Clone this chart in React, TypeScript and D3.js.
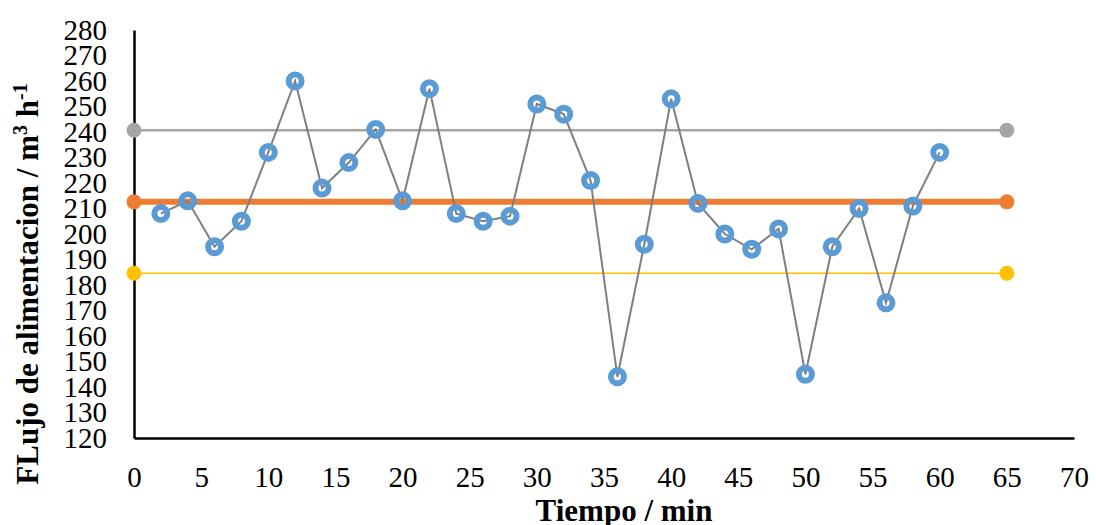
import {useEffect, useRef} from 'react';
import * as d3 from 'd3';

const [W, H] = [1096, 525];
const margin = {left: 134, right: 22, top: 30, bottom: 87};

const tiempo = [2, 4, 6, 8, 10, 12, 14, 16, 18, 20, 22, 24, 26, 28, 30, 32, 34, 36, 38, 40, 42, 44, 46, 48, 50, 52, 54, 56, 58, 60];
const flujo = [208, 213, 195, 205, 232, 260, 218, 228, 241, 213, 257, 208, 205, 207, 251, 247, 221, 144, 196, 253, 212, 200, 194, 202, 145, 195, 210, 173, 211, 232];
const limitX = [0, 65];
const lsc = 240.7;
const media = 212.6;
const lic = 184.6;
const xTicks = [0, 5, 10, 15, 20, 25, 30, 35, 40, 45, 50, 55, 60, 65, 70];
const yTicks = [120, 130, 140, 150, 160, 170, 180, 190, 200, 210, 220, 230, 240, 250, 260, 270, 280];

function App() {
    const ref = useRef<SVGSVGElement>(null);

    useEffect(() => {
        const svg = d3.select(ref.current);
        svg.selectAll('*').remove();

        const x = d3.scaleLinear().domain([0, 70]).range([margin.left, W - margin.right]);
        const y = d3.scaleLinear().domain([120, 280]).range([H - margin.bottom, margin.top]);
        const font = '"Liberation Serif", "Times New Roman", serif';

        // axes
        const xAxis = svg.append('g').attr('transform', `translate(0,${y(120)})`)
            .call(d3.axisBottom(x).tickValues(xTicks).tickSize(0).tickPadding(28))
            .attr('font-family', font).attr('font-size', 29);
        xAxis.select('.domain').attr('stroke', '#000').attr('stroke-width', 2.5);
        xAxis.selectAll('text').style('font-family', font).style('font-size', '29px').attr('fill', '#000');

        const yAxis = svg.append('g').attr('transform', `translate(${x(0)},0)`)
            .call(d3.axisLeft(y).tickValues(yTicks).tickSize(0).tickPadding(27))
            .attr('font-family', font).attr('font-size', 29);
        yAxis.select('.domain').attr('stroke', '#000').attr('stroke-width', 2.5);
        yAxis.selectAll('text').style('font-family', font).style('font-size', '29px').attr('fill', '#000');

        // control lines
        const limits = [
            {v: lsc, color: '#A5A5A5', w: 2.5},
            {v: lic, color: '#FFC000', w: 1.5},
            {v: media, color: '#ED7D31', w: 6},
        ];
        limits.forEach(l => {
            svg.append('line')
                .attr('x1', x(limitX[0])).attr('x2', x(limitX[1]))
                .attr('y1', y(l.v)).attr('y2', y(l.v))
                .attr('stroke', l.color).attr('stroke-width', l.w);
            svg.selectAll(null).data(limitX).enter().append('circle')
                .attr('cx', d => x(d)).attr('cy', y(l.v)).attr('r', 7.5)
                .attr('fill', l.color);
        });

        // series
        const pts = tiempo.map((t, i) => [t, flujo[i]] as [number, number]);
        const line = d3.line<[number, number]>().x(d => x(d[0])).y(d => y(d[1]));
        svg.append('path').datum(pts)
            .attr('d', line).attr('fill', 'none')
            .attr('stroke', '#7F7F7F').attr('stroke-width', 2);
        svg.selectAll(null).data(pts).enter().append('circle')
            .attr('cx', d => x(d[0])).attr('cy', d => y(d[1])).attr('r', 6.5)
            .attr('fill', 'none').attr('stroke', '#5B9BD5').attr('stroke-width', 6);

        // titles
        svg.append('text')
            .attr('x', 624).attr('y', 521)
            .attr('text-anchor', 'middle')
            .style('font-family', font).style('font-size', '31px').attr('font-weight', 'bold')
            .text('Tiempo / min');

        const yt = svg.append('text')
            .attr('transform', `translate(38,${284}) rotate(-90)`)
            .attr('text-anchor', 'middle')
            .style('font-family', font).style('font-size', '31px').attr('font-weight', 'bold');
        yt.append('tspan').text('FLujo de alimentacion / m');
        yt.append('tspan').style('font-size', '20px').attr('dy', -11).text('3');
        yt.append('tspan').attr('dy', 11).text(' h');
        yt.append('tspan').style('font-size', '20px').attr('dy', -11).text('-1');
    }, []);

    return (
        <svg ref={ref} width={W} height={H} style={{position: 'absolute', left: 0, top: 0, background: '#fff'}} />
    );
}

export default App;
